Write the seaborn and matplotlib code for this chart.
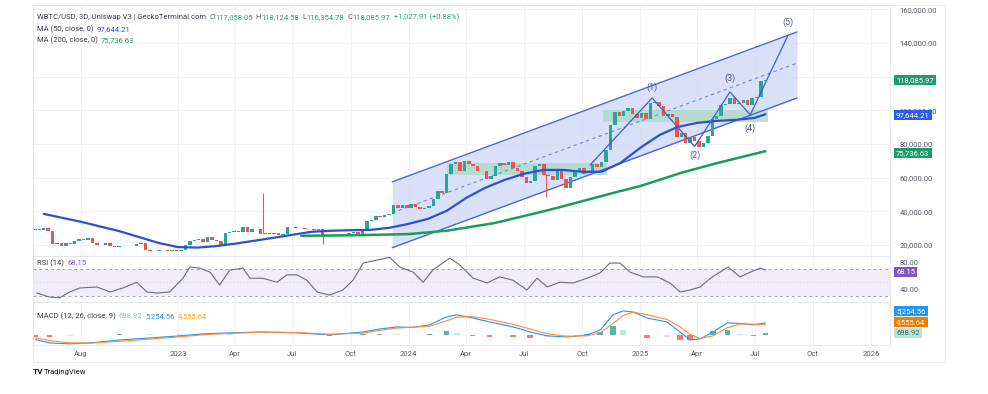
import numpy as np
import pandas as pd
import seaborn as sns
import matplotlib.pyplot as plt
import matplotlib.dates as mdates

sns.set_theme(style="white")
plt.rcParams['font.family'] = ['Roboto', 'DejaVu Sans']

# ---- data (prices in thousands of USD) ----
close_k = [29.5, 29.0, 30.0, 28.5, 20.5, 21.0, 19.3, 21.5, 20.8, 22.6, 23.8,
           23.2, 24.4, 21.2, 20.0, 19.9, 21.5, 19.5, 18.9, 19.4, 19.5, 19.2,
           19.2, 20.6, 21.2, 17.0, 16.7, 16.5, 17.0, 17.2, 16.6, 16.8, 16.6,
           # 2023
           16.9, 19.9, 22.7, 23.1, 23.4, 21.8, 24.6, 23.2, 22.3, 20.2, 26.9,
           27.5, 28.5, 28.0, 30.5, 27.8, 29.3, 29.5, 26.8, 26.9, 26.5, 27.2,
           25.9, 26.3, 30.6, 30.5, 30.2, 30.3, 29.8, 29.3, 29.1, 29.4, 26.1,
           26.0, 25.8, 25.9, 26.6, 26.6, 27.0, 27.9, 26.8, 29.7, 34.1, 34.7,
           37.3, 36.6, 37.7, 38.7, 43.8, 42.0, 43.7, 42.1,
           # 2024
           44.2, 42.8, 41.6, 41.8, 43.0, 47.1, 52.0, 50.7, 62.4, 68.2, 69.4,
           63.8, 69.9, 68.0, 67.1, 63.8, 64.0, 59.1, 60.8, 67.0, 68.5, 67.5,
           69.4, 66.0, 64.1, 60.3, 56.6, 57.9, 66.7, 67.9, 61.4, 60.9, 58.9,
           64.1, 59.1, 53.9, 60.5, 63.2, 65.8, 62.1, 62.4, 68.4, 66.6, 69.5,
           76.5, 91.0, 98.9, 96.4, 99.8, 101.3, 97.8, 95.3,
           # 2025
           98.1, 94.7, 104.4, 104.8, 102.4, 96.5, 97.5, 96.1, 84.4, 86.7, 80.5,
           84.2, 82.0, 78.5, 80.5, 84.5, 94.6, 96.5, 103.0, 103.5, 107.3, 104.0,
           104.3, 105.9, 103.3, 107.1, 108.0, 117.5, 118.1]
first_open_k = 29.0

wick_dates = ['2023-05-15', '2023-08-18', '2024-08-05']
wick_hi_k = [51.0, 29.5, 62.0]
wick_lo_k = [27.0, 20.5, 48.6]

ma50_dates = ['2022-06-03', '2022-08-01', '2022-10-01', '2022-12-01', '2023-01-01', '2023-02-01',
              '2023-03-01', '2023-04-01', '2023-05-01', '2023-06-01', '2023-07-01', '2023-08-01',
              '2023-09-01', '2023-10-01', '2023-11-01', '2023-12-01', '2024-01-01', '2024-02-01',
              '2024-03-01', '2024-04-01', '2024-05-01', '2024-06-01', '2024-07-01', '2024-08-01',
              '2024-09-01', '2024-10-01', '2024-11-01', '2024-12-01', '2025-01-01', '2025-02-01',
              '2025-03-01', '2025-04-01', '2025-05-01', '2025-06-01', '2025-07-01', '2025-07-18']
ma50_k = [38.5, 33.8, 28.2, 21.3, 18.8, 18.5, 19.3, 20.8, 22.5, 24.3, 26.1, 27.9,
          28.5, 28.8, 29.0, 30.2, 32.6, 35.6, 40.3, 48.0, 54.0, 58.7, 62.3, 64.6,
          64.6, 63.5, 63.5, 68.8, 77.7, 85.4, 90.1, 92.5, 93.7, 94.3, 95.5, 97.644]

ma200_dates = ['2023-07-15', '2023-10-01', '2024-01-01', '2024-03-01', '2024-05-15', '2024-08-01',
               '2024-09-01', '2024-11-20', '2025-01-01', '2025-03-08', '2025-05-01', '2025-07-18']
ma200_k = [25.5, 25.8, 26.5, 28.5, 33.0, 40.0, 43.0, 51.0, 55.0, 63.0, 68.5, 75.737]

# parallel channel
ch_dates = ['2023-12-06', '2025-09-06']
ch_upper_k = [57.5, 146.5]
ch_lower_k = [18.4, 107.3]
ch_mid_k = [39.1, 128.0]

# zones
zone_start = ['2024-03-01', '2024-11-03']
zone_end = ['2024-11-09', '2025-07-22']
zone_lo_k = [61.7, 93.1]
zone_hi_k = [68.8, 100.2]

# elliott waves
wave_dates = ['2024-10-14', '2025-01-20', '2025-03-28', '2025-05-23', '2025-06-24', '2025-08-23']
wave_k = [67.6, 107.3, 78.5, 110.9, 97.3, 144.7]
wave_names = ['', '(1)', '(2)', '(3)', '(4)', '(5)']
wave_label_k = [0, 113.8, 73.5, 119.2, 89.5, 152.0]

rsi_dates = ['2022-05-23', '2022-06-12', '2022-06-28', '2022-07-14', '2022-07-30', '2022-08-26',
             '2022-09-16', '2022-10-06', '2022-10-28', '2022-11-13', '2022-11-29', '2022-12-19',
             '2023-01-09', '2023-01-20', '2023-02-05', '2023-02-21', '2023-03-08', '2023-03-24',
             '2023-04-14', '2023-04-25', '2023-05-15', '2023-06-07', '2023-06-22', '2023-07-08',
             '2023-07-24', '2023-08-09', '2023-08-29', '2023-09-19', '2023-10-05', '2023-10-21',
             '2023-11-12', '2023-12-02', '2023-12-18', '2024-01-08', '2024-01-24', '2024-02-08',
             '2024-03-06', '2024-03-22', '2024-04-12', '2024-05-04', '2024-05-24', '2024-06-14',
             '2024-07-06', '2024-07-22', '2024-08-07', '2024-08-27', '2024-09-17', '2024-10-09',
             '2024-10-30', '2024-11-14', '2024-11-30', '2024-12-16', '2025-01-06', '2025-01-28',
             '2025-02-17', '2025-03-05', '2025-03-21', '2025-04-06', '2025-04-22', '2025-05-07',
             '2025-05-20', '2025-06-08', '2025-06-24', '2025-07-10', '2025-07-18']
rsi_vals = [34, 28, 27, 35.6, 41.5, 43, 35.6, 41.5, 50, 35.6, 34, 35.6,
            56, 72.6, 71, 65, 46, 68, 71, 56, 56, 50, 61, 61, 53, 35.6, 31, 38.5, 53, 78.5, 83, 87, 72.6,
            65, 50, 68, 86, 75.5, 56, 49, 58, 53, 38.5, 56, 43, 50, 49, 56, 64, 78.5, 78.5, 65,
            58, 58, 49, 35.6, 38.5, 43, 56, 65, 72.6, 58, 65, 71, 68.15]

macd_dates = ['2022-05-21', '2022-06-12', '2022-07-14', '2022-08-15', '2022-10-01', '2022-11-18',
              '2023-01-04', '2023-02-12', '2023-03-24', '2023-05-15', '2023-07-08', '2023-08-29',
              '2023-10-21', '2023-11-16', '2023-12-13', '2024-01-08', '2024-02-03', '2024-03-01',
              '2024-03-17', '2024-04-11', '2024-05-08', '2024-06-14', '2024-07-11', '2024-08-07',
              '2024-09-07', '2024-10-09', '2024-10-30', '2024-11-19', '2024-12-05', '2024-12-21',
              '2025-01-12', '2025-02-12', '2025-03-05', '2025-03-21', '2025-04-06', '2025-04-26',
              '2025-05-19', '2025-06-08', '2025-06-29', '2025-07-18']
macd_k = [-2.0, -3.5, -3.9, -3.5, -2.2, -1.3, -0.4, 0.5, 0.9, 1.3, 0.9, 0.0, 1.3, 2.6, 3.5, 3.3,
          4.4, 7.9, 8.8, 7.4, 5.7, 3.5, 1.3, -0.4, -0.9, 0.0, 2.2, 8.8, 10.5, 10.0, 7.4, 5.7,
          1.3, -2.2, -1.7, 1.3, 5.3, 5.0, 4.4, 5.25456]
signal_k = [-1.2, -2.5, -3.4, -3.6, -2.8, -1.8, -0.8, 0.1, 0.7, 1.2, 1.1, 0.3, 0.8, 2.0, 3.0, 3.4,
            3.8, 6.2, 7.8, 8.0, 6.8, 4.6, 2.6, 0.5, -0.6, -0.4, 1.0, 5.0, 8.5, 10.0, 8.8, 6.8,
            3.6, 0.2, -1.5, -0.4, 3.2, 4.8, 4.7, 4.55564]

tick_dates = ['2022-08-01', '2023-01-01', '2023-04-01', '2023-07-01', '2023-10-01', '2024-01-01',
              '2024-04-01', '2024-07-01', '2024-10-01', '2025-01-01', '2025-04-01', '2025-07-01',
              '2025-10-01', '2026-01-01']
tick_labels = ['Aug', '2023', 'Apr', 'Jul', 'Oct', '2024', 'Apr', 'Jul', 'Oct', '2025',
               'Apr', 'Jul', 'Oct', '2026']

# ---- figure ----
W, H = 988, 394
fig = plt.figure(figsize=(W / 100, H / 100), dpi=100, facecolor='white')


def px_axes(left, top, right, bottom, **kw):
    return fig.add_axes([left / W, 1 - bottom / H, (right - left) / W, (bottom - top) / H], **kw)


ax = px_axes(33, 5, 890, 256)
ax_rsi = px_axes(33, 256, 890, 302, sharex=ax)
ax_macd = px_axes(33, 302, 890, 345, sharex=ax)

up_c, dn_c = '#26a69a', '#ef5350'
grid_c = '#f0f2f6'
txt_c = '#555a66'

close = np.array(close_k) * 1000
opens = np.concatenate([[first_open_k * 1000], close[:-1]])
cd = mdates.date2num(pd.date_range('2022-05-20', periods=len(close), freq='7D'))
cols = [up_c if c >= o else dn_c for o, c in zip(opens, close)]

chx = mdates.date2num(pd.to_datetime(ch_dates))
ax.fill_between(chx, np.array(ch_lower_k) * 1000, np.array(ch_upper_k) * 1000,
                color='#cdd8f7', alpha=0.75, lw=0, zorder=1)
ax.plot(chx, np.array(ch_upper_k) * 1000, color='#4a67d6', lw=1.0, zorder=2)
ax.plot(chx, np.array(ch_lower_k) * 1000, color='#4a67d6', lw=1.0, zorder=2)
ax.plot(chx, np.array(ch_mid_k) * 1000, color='#6d84d8', lw=0.8, ls=(0, (3, 3)), zorder=2)

for s, e, lo, hi in zip(zone_start, zone_end, zone_lo_k, zone_hi_k):
    x0, x1 = mdates.date2num(pd.to_datetime([s, e]))
    ax.fill_between([x0, x1], lo * 1000, hi * 1000, color='#a9d8c4', alpha=0.75, lw=0, zorder=1.5)

wx = mdates.date2num(pd.to_datetime(wick_dates))
ax.vlines(wx, np.array(wick_lo_k) * 1000, np.array(wick_hi_k) * 1000, color=dn_c, lw=0.8, zorder=2.4)
ax.bar(cd, close - opens, bottom=opens, width=5.5, color=cols, lw=0, zorder=2.5)

sns.lineplot(x=pd.to_datetime(ma50_dates), y=np.array(ma50_k) * 1000, ax=ax,
             color='#2f4fcf', lw=1.6, zorder=3)
sns.lineplot(x=pd.to_datetime(ma200_dates), y=np.array(ma200_k) * 1000, ax=ax,
             color='#1e9c55', lw=1.8, zorder=3)

wvx = mdates.date2num(pd.to_datetime(wave_dates))
ax.plot(wvx, np.array(wave_k) * 1000, color='#3d5bd6', lw=0.9, zorder=4)
for x, name, yk in zip(wvx, wave_names, wave_label_k):
    if name:
        ax.text(x, yk * 1000, name, ha='center', va='center', fontsize=6.5, color='#4b5680', zorder=5)

ax.set_ylim(13500, 162500)
ax.yaxis.tick_right()
yt = [20000, 40000, 60000, 80000, 100000, 140000, 160000]
ax.set_yticks(yt)
ax.set_yticklabels([f'{v:,.2f}' for v in yt])
ax.tick_params(axis='y', length=0, pad=7, labelsize=5.5, labelcolor=txt_c)
ax.tick_params(axis='x', length=0, labelbottom=False)
ax.grid(True, color=grid_c, lw=0.7)
ax.axhline(120000, color=grid_c, lw=0.7, zorder=0)
ax.set_xlabel('')
ax.set_ylabel('')

# RSI
rx = pd.to_datetime(rsi_dates)
xlim = mdates.date2num(pd.to_datetime(['2022-05-17', '2026-01-31']))
ax_rsi.axhspan(30, 70, color='#ede8f7', alpha=0.8, lw=0, zorder=0)
for lv in (70, 30):
    ax_rsi.axhline(lv, color='#a9a3bf', lw=0.7, ls=(0, (3, 3)))
ax_rsi.axhline(50, color='#c9c4d9', lw=0.6, ls=(0, (1, 3)))
sns.lineplot(x=rx, y=rsi_vals, ax=ax_rsi, color='#6b6b80', lw=0.8)
ax_rsi.set_ylim(20.7, 89)
ax_rsi.yaxis.tick_right()
ax_rsi.set_yticks([40, 80])
ax_rsi.set_yticklabels(['40.00', '80.00'])
ax_rsi.tick_params(axis='y', length=0, pad=7, labelsize=5.5, labelcolor=txt_c)
ax_rsi.tick_params(axis='x', length=0, labelbottom=False)
ax_rsi.grid(True, axis='x', color=grid_c, lw=0.7)
ax_rsi.set_xlabel('')
ax_rsi.set_ylabel('')

# MACD
mx = pd.to_datetime(macd_dates)
macd = np.array(macd_k) * 1000
sig = np.array(signal_k) * 1000
hist = macd - sig
hcols = []
for i, h in enumerate(hist):
    prev = hist[i - 1] if i else h
    if h >= 0:
        hcols.append('#26a69a' if h >= prev else '#b2dfdb')
    else:
        hcols.append('#ff5252' if h <= prev else '#ffcdd2')
ax_macd.bar(mdates.date2num(mx), hist, width=9, color=hcols, alpha=0.8, lw=0)
sns.lineplot(x=mx, y=macd, ax=ax_macd, color='#2196f3', lw=0.8)
sns.lineplot(x=mx, y=sig, ax=ax_macd, color='#ff8a3d', lw=0.8)
ax_macd.set_ylim(-4400, 14400)
ax_macd.set_yticks([])
ax_macd.set_xlim(*xlim)
ax_macd.set_xticks(mdates.date2num(pd.to_datetime(tick_dates)))
ax_macd.set_xticklabels(tick_labels)
ax_macd.tick_params(axis='x', length=0, pad=4, labelsize=5.5, labelcolor=txt_c)
ax_macd.grid(True, axis='x', color=grid_c, lw=0.7)
ax_macd.set_xlabel('')
ax_macd.set_ylabel('')

for a in (ax, ax_rsi, ax_macd):
    for sp in a.spines.values():
        sp.set_color('#e3e6ec')
        sp.set_linewidth(0.6)
    a.set_facecolor('none')

# outer widget frame
fig.patches.append(plt.Rectangle((33 / W, 1 - 362 / H), (945 - 33) / W, (362 - 5) / H,
                                 transform=fig.transFigure, fill=False, ec='#e3e6ec', lw=0.6))

# ---- text ----
renderer = fig.canvas.get_renderer()


def row(x_px, y_px, parts, size=5.5):
    x = x_px
    for s, c, gap in parts:
        t = fig.text(x / W, 1 - y_px / H, s, color=c, fontsize=size, ha='left', va='center')
        x += t.get_window_extent(renderer=renderer).width + gap


green_t = '#22a37f'
row(37, 17, [('WBTC/USD, 3D, Uniswap V3 | GeckoTerminal.com', '#3a3f4b', 3),
             ('O', txt_c, 0.5), ('117,058.05', green_t, 3), ('H', txt_c, 0.5), ('118,124.58', green_t, 3),
             ('L', txt_c, 0.5), ('116,354.78', green_t, 3), ('C', txt_c, 0.5), ('118,085.97', green_t, 3),
             ('+1,027.91 (+0.88%)', green_t, 3)])
row(37, 29, [('MA (50, close, 0)', '#3a3f4b', 3), ('97,644.21', '#2f4fcf', 3)])
row(37, 40, [('MA (200, close, 0)', '#3a3f4b', 3), ('75,736.63', '#1e9c55', 3)])
row(37, 263, [('RSI (14)', '#3a3f4b', 3), ('68.15', '#7e57c2', 3)])
row(37, 316, [('MACD (12, 26, close, 9)', '#3a3f4b', 3), ('698.92', '#80cbc4', 3),
              ('5,254.56', '#2196f3', 3), ('4,555.64', '#f5a623', 3)])


def box(y_px, s, fc, tc='white'):
    fig.text(896 / W, 1 - y_px / H, s, ha='left', va='center', fontsize=5.5, color=tc,
             bbox=dict(boxstyle='square,pad=0.3', fc=fc, ec='none'))


box(80, '118,085.97', '#1f9d6e')
box(115, '97,644.21', '#2f5ce6')
box(153, '75,736.63', '#1e9c6a')
box(272, '68.15', '#7e57c2')
box(311, '5,254.56', '#2196f3')
box(322, '4,555.64', '#f57c00')
box(333, '698.92', '#b9e4dc', '#2b6f63')

fig.text(33 / W, 1 - 372 / H, 'TV', fontsize=6, weight='bold', color='#131722', va='center')
fig.text(44 / W, 1 - 372 / H, 'TradingView', fontsize=5.5, color='#131722', va='center')

fig.savefig('out.png', dpi=100, facecolor='white')
